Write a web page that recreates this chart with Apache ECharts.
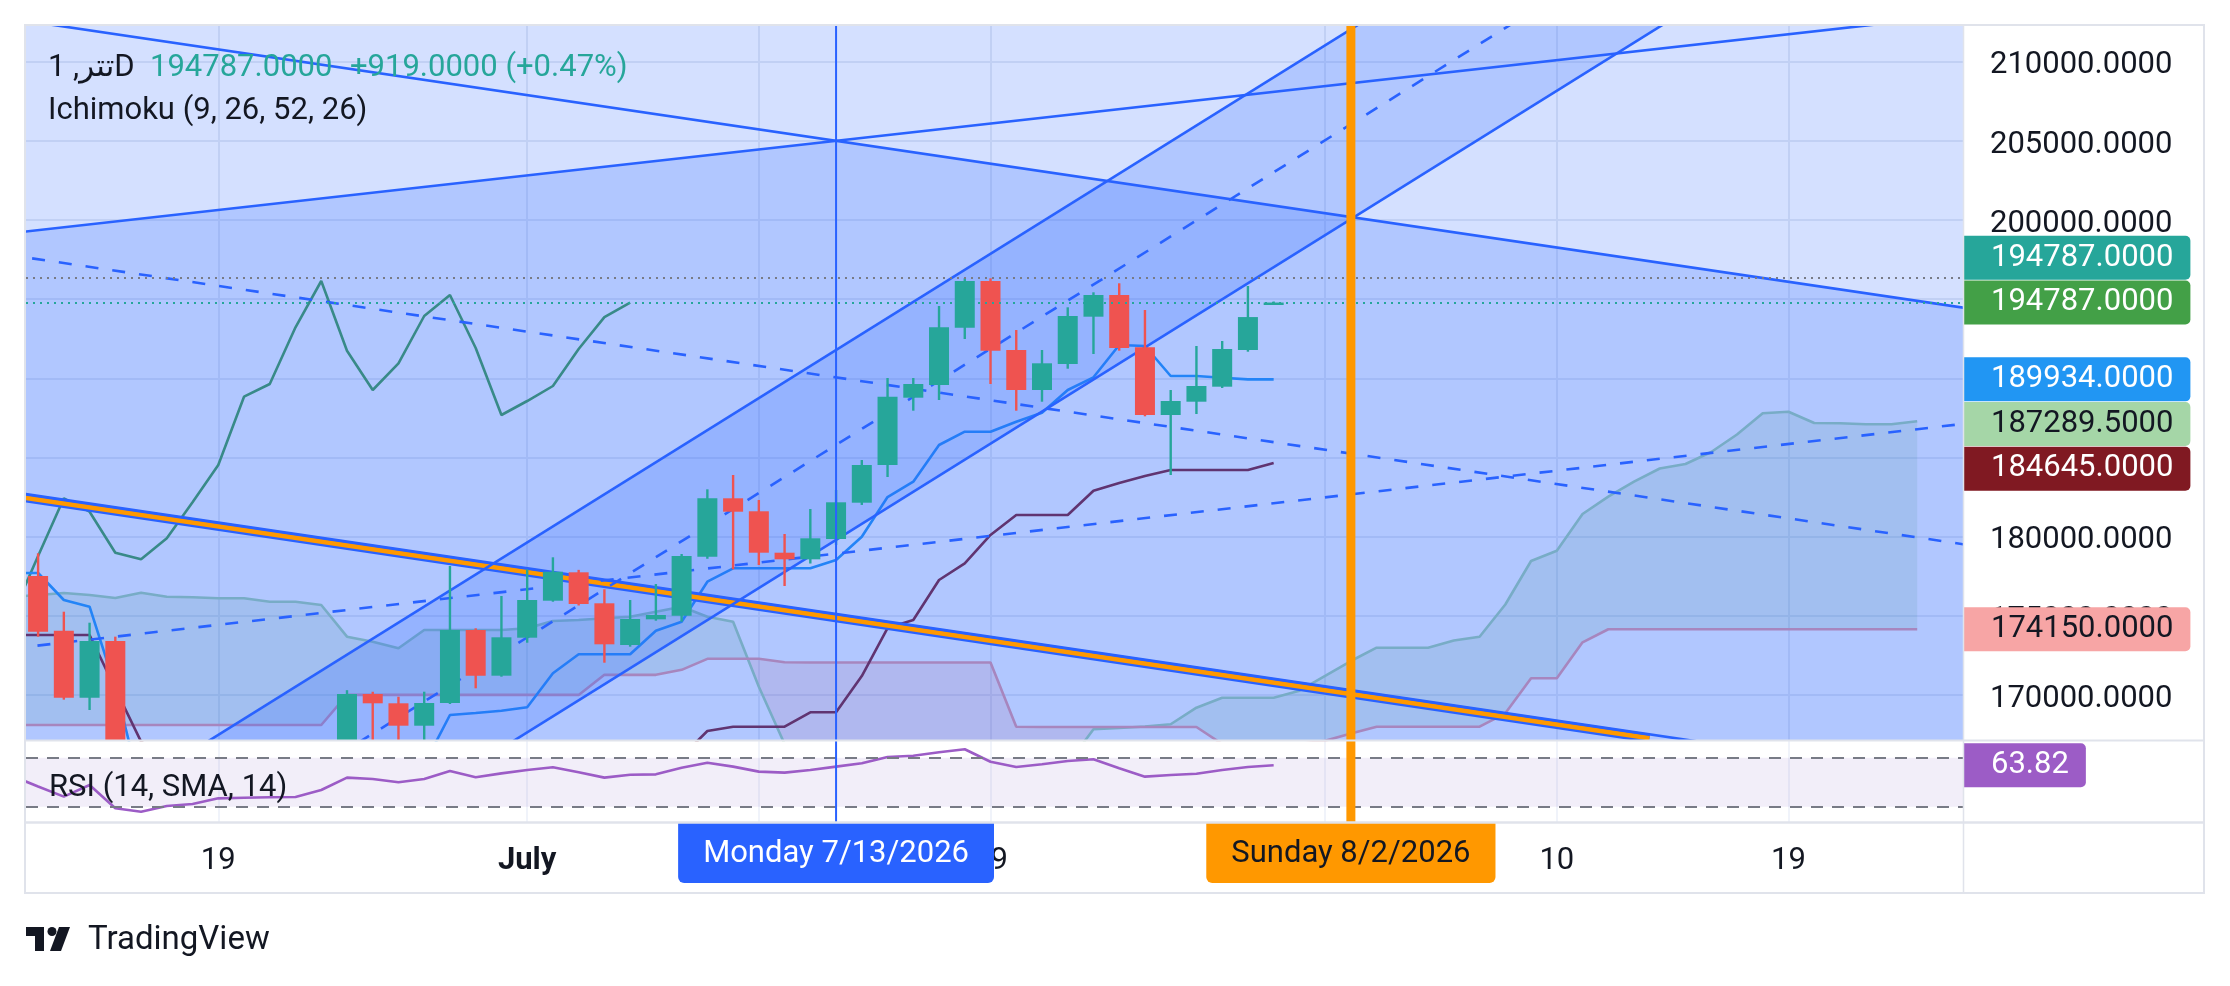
<!DOCTYPE html>
<html>
<head>
<meta charset="utf-8">
<script src="https://cdn.jsdelivr.net/npm/echarts@6/dist/echarts.min.js"></script>
<style>
html,body{margin:0;padding:0;background:#ffffff;}
#chart{width:2230px;height:986px;}
</style>
</head>
<body>
<div id="chart"></div>
<script>
// ---------------- DATA ----------------
const ANCHOR = '2026-07-13';
const candleDates = ['2026-06-12','2026-06-13','2026-06-14','2026-06-15','2026-06-16','2026-06-17','2026-06-18','2026-06-19','2026-06-20','2026-06-21','2026-06-22','2026-06-23','2026-06-24','2026-06-25','2026-06-26','2026-06-27','2026-06-28','2026-06-29','2026-06-30','2026-07-01','2026-07-02','2026-07-03','2026-07-04','2026-07-05','2026-07-06','2026-07-07','2026-07-08','2026-07-09','2026-07-10','2026-07-11','2026-07-12','2026-07-13','2026-07-14','2026-07-15','2026-07-16','2026-07-17','2026-07-18','2026-07-19','2026-07-20','2026-07-21','2026-07-22','2026-07-23','2026-07-24','2026-07-25','2026-07-26','2026-07-27','2026-07-28','2026-07-29','2026-07-30'];
const openP  = [177512,174056,169824,173405,164100,162600,164200,164700,165700,165900,166000,166100,166900,170058,169470,168055,169489,174100,171214,173614,175951,177745,175787,173153,174776,175004,178731,182420,181600,178984,178566,179849,182142,184523,188775,189577,193197,196147,191788,189261,190904,193892,195262,191959,187682,188522,189470,191788,194720];
const highP  = [178945,175256,174562,173680,165400,164800,165500,166400,166500,166600,166700,167000,170300,170200,169887,170203,178143,174207,176248,177935,178693,177900,176671,175995,177006,178900,182988,183892,182312,180165,181744,182944,184839,190019,190019,194567,196317,196317,193051,191788,194485,195433,196002,194315,189261,192041,192356,195831,194850];
const lowP   = [173677,169700,169047,162800,161300,162000,163300,164000,165000,165200,165300,165600,166500,166700,166800,166900,169427,170418,171150,173298,175888,175650,172035,173046,174688,174625,178600,177935,178206,176880,178300,179470,182000,183765,187954,188629,192483,189640,187954,188522,190607,191535,191744,187600,183892,187745,189388,191681,194700];
const closeP = [173993,169824,173405,164100,162600,164200,164700,165700,165900,166000,166100,166900,170058,169470,168055,169489,174100,171214,173639,175995,177783,175743,173197,174795,175048,178775,182420,181573,178984,178566,179893,182167,184523,188838,189640,193222,196147,191744,189261,190948,193936,195262,191914,187682,188566,189514,191851,193868,194787];

// Ichimoku / RSI series: one value per consecutive day starting at ichiStart (2026-06-11)
const ichiStart = '2026-06-11';
const conversionLine = [177700,177700,175995,175572,170500,164000,163500,163500,163500,164000,164000,164500,165000,165300,165400,165500,165600,168731,168857,169000,
  169217,171365,172565,172565,172565,174056,174625,177152,177998,177998,177998,177998,178522,179994,182500,183469,185787,186627,186627,187259,187827,189261,190064,192104,192041,190146,190146,190038,189934,189934];
const baseLine = [173784,173784,173784,173784,170400,167050,166000,166000,166000,166000,166000,166000,166000,166000,166000,166000,166000,166000,166000,166000,
  166000,166000,166000,166000,166000,166000,166100,167720,167992,167992,167992,168902,168902,171194,174226,174732,177259,178314,180102,181365,181365,181365,182900,183386,183829,184207,184207,184207,184207,184645];
const laggingSpan = [175048,178775,182420,181573,178984,178566,179893,182167,184523,188838,189640,193222,196147,191744,189261,190948,193936,195262,191914,187682,
  188566,189514,191851,193868,194787];
// June 11-30 | July 1-31 | August 1-24
const leadSpanA = [176200,176312,176437,176312,176122,176457,176205,176167,176103,176103,175889,175889,175680,173678,173362,172945,174101,174101,174101,174101,
  174208,174669,174732,174839,174940,175256,175572,174940,174624,170521,166900,164800,164200,164000,164000,164200,164400,164600,164800,165000,165300,165640,167828,167910,168005,168145,169192,169824,169824,169824,170265,
  171200,172142,172983,172983,172983,173438,173678,175711,178459,179110,181428,182521,183469,184302,184587,185345,186450,187789,187890,187176,187157,187094,187094,187289.5];
const leadSpanB = [168099,168099,168099,168099,168099, 168099,168099,168099,168099,168099, 168099,168099,168099,170000,170000, 170000,170000,170000,170000,170000,
  170000,170000,170000,171269,171269, 171269,171585,172280,172280,172280, 172060,172047,172047,172047,172047, 172047,172047,172047,172047,167992, 167973,167973,167973,167973,167973, 167973,167973,166900,166900,166900, 166900,
  167100,167563,167992,167992,167992, 167992,167992,168838,171049,171049, 173324,174150,174150,174150,174150, 174150,174150,174150,174150,174150, 174150,174150,174150,174150];
const rsiValues = [55,46.5,38.2,47.7,28.7,25.9,30.6,32.2,36.8,37.3,37.7,37.9,43.6,53.7,52.6,49.9,52.6,59.1,54.0,57.2,
  60.0,62.2,58.1,53.7,56.1,56.4,61.8,65.9,62.7,58.6,57.8,60.0,62.7,65.4,70.6,71.6,74.4,76.9,66.7,62.4,64.6,67.3,68.7,61.3,54.5,55.9,56.9,60.0,62.4,63.82];

// Drawing tools: each line given by two anchor points [date, price]
const descTopLine  = [['2026-06-13', 212221], ['2026-08-22', 195372]];
const descMidLine  = [['2026-06-13', 197280], ['2026-08-22', 180431]];
const descBotLine  = [['2026-06-13', 182338], ['2026-08-22', 165489]];
const orangeLine   = [['2026-06-13', 182088], ['2026-08-13T14:24', 167261]];
const riseTopLine  = [['2026-06-13', 199540], ['2026-08-22', 212280]];
const riseMidLine  = [['2026-06-13', 173305], ['2026-08-22', 186412]];
const steepTopLine = [['2026-07-13', 191788], ['2026-08-02', 212048]];
const steepMidLine = [['2026-07-13', 185790], ['2026-08-02', 206052]];
const steepBotLine = [['2026-07-13', 179792], ['2026-08-02', 200057]];

const lastPrice = 194787;
const highLinePrice = 196350;
const markerDates = ['2026-07-13', '2026-08-02'];
const markerTexts = ['Monday 7/13/2026', 'Sunday 8/2/2026'];

const tickDates = ['2026-06-19','2026-07-01','2026-07-10','2026-07-19','2026-08-01','2026-08-10','2026-08-19'];
const tickLabels = ['19','July','10','19','Aug','10','19'];
const priceTicks = [170000,175000,180000,185000,190000,195000,200000,205000,210000];

const priceLabelValues = [194787, 194787, 189934, 187289.5, 184645, 174150];
const rsiLabelValue = 63.82;

// ---------------- STYLE ----------------
const FONT = 'Roboto, "Noto Sans", "DejaVu Sans", sans-serif';
const TXT = '#131722';
const FS = 31;
const UP = '#26A69A', DOWN = '#EF5350';
const priceLabelBg = ['#26A69A', '#43A047', '#2196F3', '#A5D6A7', '#801922', '#F7A5A5'];
const priceLabelFg = ['#FFFFFF', '#FFFFFF', '#FFFFFF', '#131722', '#FFFFFF', '#131722'];
const priceLabelShift = [-44.7, 0, 0, 2.8, 5.6, 0];
const markerColors = ['#2962FF', '#FF9800'];
const markerTextColors = ['#FFFFFF', '#131722'];
const markerWidths = [2, 9];
const DRAW = '#2962FF';
const DRAW_FILL = 'rgba(41,98,255,0.2)';

const X_MIN = -31.47, X_MAX = 43.78, Y_MIN = 167152, Y_MAX = 212255;
const RSI_MIN = 17.5, RSI_MAX = 83.6;

// ---------------- HELPERS ----------------
function dayOf(s) {
  const t = Date.parse(s.length === 10 ? s + 'T00:00:00Z' : s + ':00Z');
  return (t - Date.parse(ANCHOR + 'T00:00:00Z')) / 86400000;
}
const ichiDay0 = dayOf(ichiStart);
const seq = arr => arr.map((v, i) => [ichiDay0 + i, v]);
function lineFn(L) {
  const d0 = dayOf(L[0][0]), d1 = dayOf(L[1][0]);
  const p0 = L[0][1], p1 = L[1][1];
  const k = (p1 - p0) / (d1 - d0);
  return d => p0 + k * (d - d0);
}
const tickDays = tickDates.map(dayOf);
const tickFormatter = v => {
  const i = tickDays.findIndex(d => Math.abs(d - v) < 1e-6);
  if (i < 0) return '';
  return tickLabels[i] === 'July' || tickLabels[i] === 'Aug' ? '{b|' + tickLabels[i] + '}' : tickLabels[i];
};
const clipOf = cs => ({type: 'rect', shape: {x: cs.x, y: cs.y, width: cs.width, height: cs.height}});
const E0 = -80, E1 = 120;

// ---------------- SERIES ----------------
const cloudSeries = {
  type: 'custom', xAxisIndex: 0, yAxisIndex: 0, z: 1, silent: true, clip: true,
  data: [[0, Y_MIN]],
  renderItem(params, api) {
    const children = [];
    const n = Math.min(leadSpanA.length, leadSpanB.length);
    let top = [], bot = [], sign = null;
    const flush = () => {
      if (top.length > 1) children.push({type: 'polygon', shape: {points: top.concat(bot.slice().reverse())},
        style: {fill: sign > 0 ? 'rgba(67,160,71,0.12)' : 'rgba(244,67,54,0.12)'}});
    };
    for (let i = 0; i < n; i++) {
      const d = ichiDay0 + i, a = leadSpanA[i], b = leadSpanB[i];
      const s = a >= b ? 1 : -1;
      if (sign === null) { sign = s; top = [api.coord([d, a])]; bot = [api.coord([d, b])]; continue; }
      if (s !== sign) {
        const ap = leadSpanA[i - 1], bp = leadSpanB[i - 1];
        const t = (ap - bp) / ((ap - bp) - (a - b));
        const c = api.coord([d - 1 + t, ap + t * (a - ap)]);
        top.push(c); bot.push(c); flush();
        sign = s; top = [c]; bot = [c];
      }
      top.push(api.coord([d, a])); bot.push(api.coord([d, b]));
    }
    flush();
    return {type: 'group', clipPath: clipOf(params.coordSys), children};
  }
};

const ichiLine = (name, data, color) => ({
  name, type: 'line', xAxisIndex: 0, yAxisIndex: 0, z: 1, silent: true,
  data, showSymbol: false, symbol: 'none', clip: true,
  lineStyle: {color, width: 2.6}
});

const fillSeries = {
  type: 'custom', xAxisIndex: 0, yAxisIndex: 0, z: 2, silent: true, clip: true,
  data: [[0, Y_MIN]],
  renderItem(params, api) {
    const cs = params.coordSys;
    const P = (d, p) => api.coord([d, p]);
    const rise = lineFn(riseTopLine), desc = lineFn(descTopLine);
    const sTop = lineFn(steepTopLine), sBot = lineFn(steepBotLine);
    const kr = rise(1) - rise(0), kd = desc(1) - desc(0);
    const di = (desc(0) - rise(0)) / (kr - kd);
    const FLOOR = 100000;
    return {type: 'group', clipPath: clipOf(cs), children: [
      {type: 'rect', shape: {x: cs.x, y: cs.y, width: cs.width, height: cs.height}, style: {fill: DRAW_FILL}},
      {type: 'polygon', shape: {points: [P(E0, rise(E0)), P(di, rise(di)), P(E1, desc(E1)), P(E1, FLOOR), P(E0, FLOOR)]}, style: {fill: DRAW_FILL}},
      {type: 'polygon', shape: {points: [P(E0, sTop(E0)), P(E1, sTop(E1)), P(E1, sBot(E1)), P(E0, sBot(E0))]}, style: {fill: DRAW_FILL}}
    ]};
  }
};

const drawingSeries = {
  type: 'custom', xAxisIndex: 0, yAxisIndex: 0, z: 3, silent: true, clip: true,
  data: [[0, Y_MIN]],
  renderItem(params, api) {
    const P = (d, p) => api.coord([d, p]);
    const seg = (L, style, dEnd) => {
      const f = lineFn(L);
      const e = dEnd === undefined ? E1 : dEnd;
      const a = P(E0, f(E0)), b = P(e, f(e));
      return {type: 'line', shape: {x1: a[0], y1: a[1], x2: b[0], y2: b[1]}, style: Object.assign({fill: null}, style)};
    };
    const solid = {stroke: DRAW, lineWidth: 2.6};
    const dash = {stroke: DRAW, lineWidth: 2.6, lineDash: [13, 14]};
    const oEnd = dayOf(orangeLine[1][0]);
    return {type: 'group', clipPath: clipOf(params.coordSys), children: [
      seg(orangeLine, {stroke: DRAW, lineWidth: 9}, oEnd),
      seg(orangeLine, {stroke: '#FF9800', lineWidth: 4.5}, oEnd),
      seg(descTopLine, solid), seg(descMidLine, dash), seg(descBotLine, solid),
      seg(riseTopLine, solid), seg(riseMidLine, dash),
      seg(steepTopLine, solid), seg(steepMidLine, dash), seg(steepBotLine, solid)
    ]};
  }
};

// candles drawn through the axes, clipped to the price pane
const candleSeries = {
  type: 'custom', xAxisIndex: 0, yAxisIndex: 0, z: 4, silent: true, clip: true,
  data: candleDates.map((d, i) => [dayOf(d), openP[i], closeP[i], lowP[i], highP[i]]),
  encode: {x: 0, y: [1, 2, 3, 4]},
  renderItem(params, api) {
    const d = api.value(0), o = api.value(1), c = api.value(2), l = api.value(3), h = api.value(4);
    const pO = api.coord([d, o]), pC = api.coord([d, c]), pL = api.coord([d, l]), pH = api.coord([d, h]);
    const color = c >= o ? UP : DOWN;
    const w = 20;
    const top = Math.min(pO[1], pC[1]), bot = Math.max(pO[1], pC[1]);
    return {type: 'group', clipPath: clipOf(params.coordSys), children: [
      {type: 'line', shape: {x1: pO[0], y1: pH[1], x2: pO[0], y2: pL[1]}, style: {stroke: color, lineWidth: 2.4}},
      {type: 'rect', shape: {x: pO[0] - w / 2, y: top, width: w, height: Math.max(bot - top, 2.5)}, style: {fill: color}}
    ]};
  }
};

const priceLines = {
  type: 'line', xAxisIndex: 0, yAxisIndex: 0, z: 5, silent: true, data: [],
  markLine: {
    symbol: 'none', silent: true, label: {show: false}, animation: false,
    data: [
      {yAxis: lastPrice, lineStyle: {color: '#26A69A', type: [2, 5], width: 2}},
      {yAxis: highLinePrice, lineStyle: {color: '#787B86', type: [2, 5], width: 2}}
    ]
  }
};

const markerMain = {
  type: 'custom', xAxisIndex: 0, yAxisIndex: 0, z: 6, silent: true,
  data: markerDates.map(d => [dayOf(d), Y_MIN]),
  renderItem(params, api) {
    const cs = params.coordSys, i = params.dataIndex;
    const x = api.coord([dayOf(markerDates[i]), Y_MIN])[0];
    return {type: 'line', shape: {x1: x, y1: cs.y, x2: x, y2: cs.y + cs.height},
      style: {stroke: markerColors[i], lineWidth: markerWidths[i]}};
  }
};

const rsiSeries = {
  type: 'line', xAxisIndex: 1, yAxisIndex: 1, z: 3, silent: true,
  data: seq(rsiValues), showSymbol: false, symbol: 'none', clip: true,
  lineStyle: {color: '#9C5CC6', width: 2.6},
  markLine: {
    symbol: 'none', silent: true, label: {show: false}, animation: false,
    lineStyle: {color: '#787B86', type: [12, 9], width: 2},
    data: [{yAxis: 70}, {yAxis: 30}]
  },
  markArea: {silent: true, itemStyle: {color: 'rgba(126,87,194,0.1)'}, data: [[{yAxis: 30}, {yAxis: 70}]]}
};

const markerRsi = {
  type: 'custom', xAxisIndex: 1, yAxisIndex: 1, z: 6, silent: true, clip: false,
  data: markerDates.map(d => [dayOf(d), RSI_MIN]),
  renderItem(params, api) {
    const cs = params.coordSys, i = params.dataIndex;
    const x = api.coord([dayOf(markerDates[i]), RSI_MIN])[0];
    const yb = cs.y + cs.height;
    return {type: 'group', children: [
      {type: 'line', shape: {x1: x, y1: cs.y, x2: x, y2: yb}, style: {stroke: markerColors[i], lineWidth: markerWidths[i]}},
      {type: 'text', z2: 10, style: {x: x, y: yb, text: markerTexts[i], fill: markerTextColors[i],
        backgroundColor: markerColors[i], padding: [17, 25, 13, 25], borderRadius: [0, 0, 6, 6],
        fontSize: FS, fontFamily: FONT, lineHeight: 31, align: 'center', verticalAlign: 'top'}}
    ]};
  }
};

const priceLabels = {
  type: 'custom', xAxisIndex: 0, yAxisIndex: 0, z: 10, silent: true, clip: false,
  data: priceLabelValues.map(v => [X_MAX, v]),
  renderItem(params, api) {
    const cs = params.coordSys, i = params.dataIndex;
    const y = api.coord([X_MAX, priceLabelValues[i]])[1] + priceLabelShift[i];
    return {type: 'text', style: {x: cs.x + cs.width, y: y, text: priceLabelValues[i].toFixed(4),
      fill: priceLabelFg[i], backgroundColor: priceLabelBg[i], padding: [9, 17, 4, 28], borderRadius: [0, 5, 5, 0],
      fontSize: FS, fontFamily: FONT, lineHeight: 31, align: 'left', verticalAlign: 'middle'}};
  }
};

const rsiLabel = {
  type: 'custom', xAxisIndex: 1, yAxisIndex: 1, z: 10, silent: true, clip: false,
  data: [[X_MAX, rsiLabelValue]],
  renderItem(params, api) {
    const cs = params.coordSys;
    const y = api.coord([X_MAX, rsiLabelValue])[1];
    return {type: 'text', style: {x: cs.x + cs.width, y: y, text: rsiLabelValue.toFixed(2),
      fill: '#FFFFFF', backgroundColor: '#9C5CC6', padding: [9, 17, 4, 28], borderRadius: [0, 5, 5, 0],
      fontSize: FS, fontFamily: FONT, lineHeight: 31, align: 'left', verticalAlign: 'middle'}};
  }
};

// ---------------- OPTION ----------------
const gridLine = {show: true, lineStyle: {color: '#E8EBF2', width: 2}};
const option = {
  animation: false,
  backgroundColor: '#ffffff',
  textStyle: {fontFamily: FONT},
  grid: [
    {left: 26, top: 26, width: 1937, height: 714, show: false, containLabel: false, outerBoundsMode: 'none'},
    {left: 26, top: 741, width: 1937, height: 81, show: false, containLabel: false, outerBoundsMode: 'none'}
  ],
  xAxis: [
    {type: 'value', gridIndex: 0, min: X_MIN, max: X_MAX, axisLine: {show: false},
     axisTick: {show: false, customValues: tickDays}, axisLabel: {show: false}, splitLine: gridLine},
    {type: 'value', gridIndex: 1, min: X_MIN, max: X_MAX, position: 'bottom', axisLine: {show: false},
     axisTick: {show: false, customValues: tickDays},
     axisLabel: {show: true, customValues: tickDays, formatter: tickFormatter, margin: 24, fontSize: FS, lineHeight: 31,
       color: TXT, fontFamily: FONT, hideOverlap: false,
       rich: {b: {fontWeight: 'bold', fontSize: FS, color: TXT, fontFamily: FONT, lineHeight: 31}}},
     splitLine: {show: true, lineStyle: {color: '#F0F3FA', width: 2}}}
  ],
  yAxis: [
    {type: 'value', gridIndex: 0, position: 'right', min: Y_MIN, max: Y_MAX, axisLine: {show: false},
     axisTick: {show: false, customValues: priceTicks},
     axisLabel: {customValues: priceTicks, formatter: v => v.toFixed(4), margin: 27, fontSize: FS, color: TXT, fontFamily: FONT,
       align: 'left', hideOverlap: false, verticalAlign: 'top', lineHeight: 8},
     splitLine: gridLine},
    {type: 'value', gridIndex: 1, position: 'right', min: RSI_MIN, max: RSI_MAX, axisLine: {show: false},
     axisTick: {show: false}, axisLabel: {show: false}, splitLine: {show: false}}
  ],
  series: [
    cloudSeries,
    ichiLine('Lead A', seq(leadSpanA), '#A5D6A7'),
    ichiLine('Lead B', seq(leadSpanB), '#EF9A9A'),
    ichiLine('Lagging', seq(laggingSpan), '#43A047'),
    ichiLine('Base', seq(baseLine), '#801922'),
    ichiLine('Conversion', seq(conversionLine), '#2196F3'),
    fillSeries,
    drawingSeries,
    candleSeries,
    priceLines,
    markerMain,
    rsiSeries,
    markerRsi,
    priceLabels,
    rsiLabel
  ],
  graphic: [
    {type: 'rect', z: 50, silent: true, shape: {x: 25, y: 25, width: 2179, height: 868}, style: {fill: null, stroke: '#E0E3EB', lineWidth: 2}},
    {type: 'line', z: 50, silent: true, shape: {x1: 1963.5, y1: 25, x2: 1963.5, y2: 893}, style: {stroke: '#E0E3EB', lineWidth: 1.5}},
    {type: 'line', z: 50, silent: true, shape: {x1: 25, y1: 740.5, x2: 2204, y2: 740.5}, style: {stroke: '#E0E3EB', lineWidth: 2}},
    {type: 'line', z: 50, silent: true, shape: {x1: 25, y1: 822.5, x2: 2204, y2: 822.5}, style: {stroke: '#E0E3EB', lineWidth: 2.5}},
    {type: 'text', z: 60, silent: true, x: 48, y: 68, style: {text: 'تتر, 1D', fill: TXT, fontSize: FS, fontFamily: FONT, verticalAlign: 'middle', align: 'left'}},
    {type: 'text', z: 60, silent: true, x: 150, y: 68, style: {text: '194787.0000', fill: '#26A69A', fontSize: FS, fontFamily: FONT, verticalAlign: 'middle', align: 'left'}},
    {type: 'text', z: 60, silent: true, x: 350, y: 68, style: {text: '+919.0000 (+0.47%)', fill: '#26A69A', fontSize: FS, fontFamily: FONT, verticalAlign: 'middle', align: 'left'}},
    {type: 'text', z: 60, silent: true, x: 48, y: 111, style: {text: 'Ichimoku (9, 26, 52, 26)', fill: TXT, fontSize: FS, fontFamily: FONT, verticalAlign: 'middle', align: 'left'}},
    {type: 'text', z: 60, silent: true, x: 49, y: 788, style: {text: 'RSI (14, SMA, 14)', fill: TXT, fontSize: FS, fontFamily: FONT, verticalAlign: 'middle', align: 'left'}},
    {type: 'group', z: 60, silent: true, x: 26, y: 927, children: [
      {type: 'rect', shape: {x: 0, y: 0, width: 18, height: 9}, style: {fill: TXT}},
      {type: 'rect', shape: {x: 9, y: 0, width: 9, height: 24}, style: {fill: TXT}},
      {type: 'circle', shape: {cx: 26, cy: 4.5, r: 4.5}, style: {fill: TXT}},
      {type: 'polygon', shape: {points: [[33, 0], [44, 0], [35, 24], [24, 24]]}, style: {fill: TXT}}
    ]},
    {type: 'text', z: 60, silent: true, x: 88, y: 941, style: {text: 'TradingView', fill: TXT, fontSize: 33, fontFamily: FONT, verticalAlign: 'middle', align: 'left'}}
  ]
};

const chart = echarts.init(document.getElementById('chart'), null, {renderer: 'canvas', width: 2230, height: 986});
chart.setOption(option);
</script>
</body>
</html>
